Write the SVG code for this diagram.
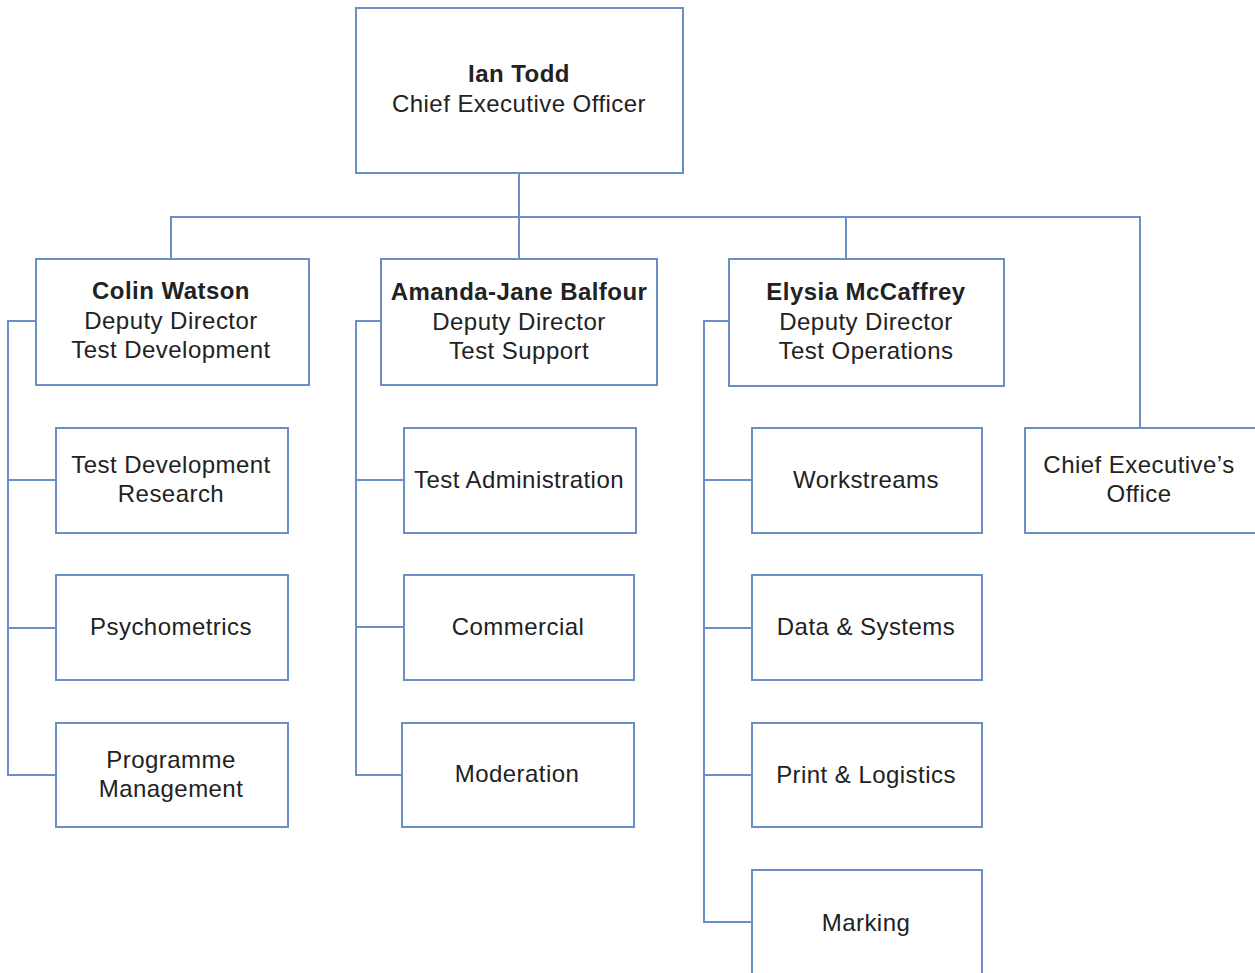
<svg xmlns="http://www.w3.org/2000/svg" width="1255" height="973" viewBox="0 0 1255 973">
<style>
rect{fill:#fff;stroke:#6a8fc7;stroke-width:2}
.c{fill:none;stroke:#6a8fc7;stroke-width:2}
text{font-family:"Liberation Sans",Arial,sans-serif;font-size:24px;fill:#222;text-anchor:middle;letter-spacing:0.45px}
.b{font-weight:bold}
</style>
<rect x="0" y="0" width="1255" height="973" style="stroke:none"/>
<g id="connectors">
<path class="c" d="M519,173V258M171,258V217H1140V428M846,217V258"/>
<path class="c" d="M36,321H8V775H56M8,480H56M8,628H56"/>
<path class="c" d="M381,321H356V775H402M356,480H404M356,627H404"/>
<path class="c" d="M729,321H704V922H752M704,480H752M704,628H752M704,775H752"/>
</g>
<g id="ceo"><rect x="356" y="8" width="327" height="165"/><text x="519" y="82" class="b">Ian Todd</text><text x="519" y="112">Chief Executive Officer</text></g>
<g id="colin"><rect x="36" y="259" width="273" height="126"/><text x="171" y="299" class="b">Colin Watson</text><text x="171" y="329">Deputy Director</text><text x="171" y="358">Test Development</text></g>
<g id="amanda"><rect x="381" y="259" width="276" height="126"/><text x="519" y="300" class="b">Amanda-Jane Balfour</text><text x="519" y="330">Deputy Director</text><text x="519" y="359">Test Support</text></g>
<g id="elysia"><rect x="729" y="259" width="275" height="127"/><text x="866" y="300" class="b">Elysia McCaffrey</text><text x="866" y="330">Deputy Director</text><text x="866" y="359">Test Operations</text></g>
<g id="ceoffice"><rect x="1025" y="428" width="240" height="105"/><text x="1139" y="473">Chief Executive’s</text><text x="1139" y="502">Office</text></g>
<g id="tdr"><rect x="56" y="428" width="232" height="105"/><text x="171" y="473">Test Development</text><text x="171" y="502">Research</text></g>
<g id="psy"><rect x="56" y="575" width="232" height="105"/><text x="171" y="635">Psychometrics</text></g>
<g id="pm"><rect x="56" y="723" width="232" height="104"/><text x="171" y="768">Programme</text><text x="171" y="797">Management</text></g>
<g id="ta"><rect x="404" y="428" width="232" height="105"/><text x="519" y="488">Test Administration</text></g>
<g id="com"><rect x="404" y="575" width="230" height="105"/><text x="518" y="635">Commercial</text></g>
<g id="mod"><rect x="402" y="723" width="232" height="104"/><text x="517" y="782">Moderation</text></g>
<g id="ws"><rect x="752" y="428" width="230" height="105"/><text x="866" y="488">Workstreams</text></g>
<g id="ds"><rect x="752" y="575" width="230" height="105"/><text x="866" y="635">Data &amp; Systems</text></g>
<g id="pl"><rect x="752" y="723" width="230" height="104"/><text x="866" y="783">Print &amp; Logistics</text></g>
<g id="mk"><rect x="752" y="870" width="230" height="120"/><text x="866" y="931">Marking</text></g>
</svg>
